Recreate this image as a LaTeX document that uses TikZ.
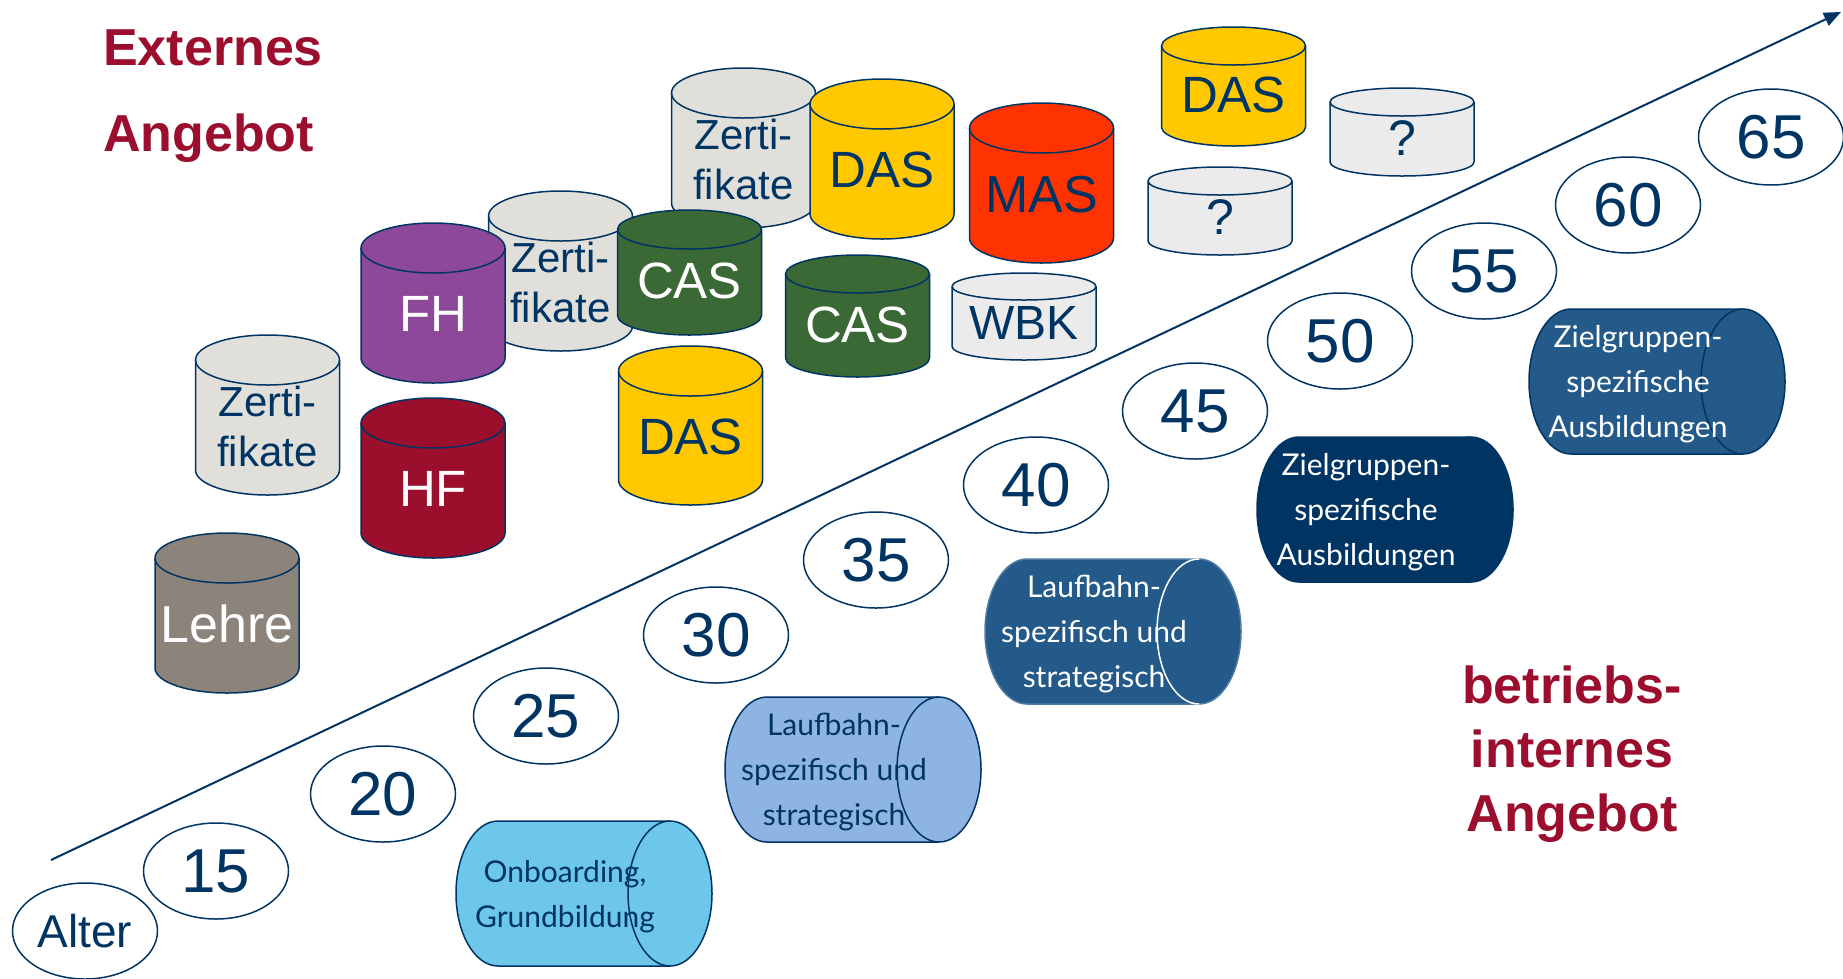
\documentclass[tikz,border=0pt]{standalone}
\usepackage{fontspec}
\setmainfont{Liberation Sans}
\newfontfamily\lblfont{Lato}
\usetikzlibrary{shapes.geometric,arrows.meta}
\definecolor{navy}{HTML}{003462}
\definecolor{titlered}{HTML}{9C0E2D}
\definecolor{zgray}{HTML}{E0DFDA}
\definecolor{qgray}{HTML}{EBEBEB}
\definecolor{dasyellow}{HTML}{FFC800}
\definecolor{casgreen}{HTML}{3B6935}
\definecolor{fhpurple}{HTML}{8E4899}
\definecolor{hfred}{HTML}{9B0E2C}
\definecolor{masred}{HTML}{FF3300}
\definecolor{taupe}{HTML}{8C847B}
\definecolor{onblue}{HTML}{6CC7EB}
\definecolor{lbblue}{HTML}{8DB4E2}
\definecolor{midblue}{HTML}{245A89}
\definecolor{deepnavy}{HTML}{003462}
\tikzset{
  numell/.style={ellipse, draw=navy, fill=white, line width=1.5pt,
    minimum width=145pt, minimum height=96pt, inner sep=0pt, text=navy,
    font=\fontsize{62}{62}\selectfont},
  titletext/.style={text=titlered, font=\fontsize{52}{64}\selectfont\bfseries, inner sep=0pt},
  cyllabel/.style={align=center, inner sep=0pt},
  hlabel/.style={align=center, inner sep=0pt, font=\lblfont\fontsize{30}{45}\selectfont},
}
% vertical cylinder: name, cx, top, height, fill, text colour, font size, text, ry
\newcommand\vcyl[9]{%
  \filldraw[fill=#5, draw=navy, line width=1.5pt]
    (#2-72,-#3-#9) -- (#2-72,-#3-#4+#9)
    arc[start angle=180, end angle=360, x radius=72, y radius=#9]
    -- (#2+72,-#3-#9)
    arc[start angle=0, end angle=180, x radius=72, y radius=#9] -- cycle;
  \draw[navy, line width=1.5pt] (#2-72,-#3-#9)
    arc[start angle=180, end angle=360, x radius=72, y radius=#9];
  \node[cyllabel, text=#6, font=\fontsize{#7}{50}\selectfont] (#1) at (#2,{-#3-0.57*#4}) {#8};
}
% horizontal cylinder: name, left, top, fill, outline, inner arc, text colour, text
\newcommand\hcyl[8]{%
  \filldraw[fill=#4, draw=#5, line width=1.5pt]
    (#2+42,-#3) -- (#2+214,-#3)
    arc[start angle=90, end angle=-90, x radius=42, y radius=72.5]
    -- (#2+42,-#3-145)
    arc[start angle=270, end angle=90, x radius=42, y radius=72.5] -- cycle;
  \draw[#6, line width=1.5pt] (#2+214,-#3)
    arc[start angle=90, end angle=270, x radius=42, y radius=72.5];
  \node[hlabel, text=#7] (#1) at ({#2+109},{-#3-75.5}) {#8};
}
\begin{document}
\begin{tikzpicture}[x=1pt,y=1pt]
\useasboundingbox (0,0) rectangle (1843,-978);

% titles
\node[titletext, align=left, anchor=west] (extern) at (103,-96.5) {Externes\\[22pt]Angebot};
\node[titletext, align=center] (intern) at (1572,-754) {betriebs-\\internes\\Angebot};

% axis
\coordinate (axisStart) at (51,-860);
\coordinate (axisEnd) at (1841,-12);
\draw[navy, line width=2pt, -{Triangle[length=17pt,width=14pt]}] (axisStart) -- (axisEnd);

% vertical cylinders (back to front)
\vcyl{dasR}{1233.5}{27}{119}{dasyellow}{navy}{51}{DAS}{19}
\vcyl{zertT}{743.5}{68}{160}{zgray}{navy}{42}{Zerti-\\fikate}{25}
\vcyl{dasT}{882}{79}{160}{dasyellow}{navy}{51}{DAS}{25}
\vcyl{qR}{1402}{88}{88}{qgray}{navy}{50}{?}{14}
\vcyl{mas}{1041.5}{103}{160}{masred}{navy}{52}{MAS}{25}
\vcyl{qL}{1220}{167}{88}{qgray}{navy}{50}{?}{14}
\vcyl{zertM}{560.5}{191}{160}{zgray}{navy}{42}{Zerti-\\fikate}{25}
\vcyl{casL}{689.5}{210}{125}{casgreen}{white}{51}{CAS}{19.5}
\vcyl{fh}{433}{223}{160}{fhpurple}{white}{51}{FH}{25}
\vcyl{casM}{857.5}{255}{122}{casgreen}{white}{51}{CAS}{19}
\vcyl{wbk}{1024}{273}{87}{qgray}{navy}{48}{WBK}{13.5}
\vcyl{zertL}{267.5}{335}{160}{zgray}{navy}{42}{Zerti-\\fikate}{25}
\vcyl{dasL}{690.5}{346}{159}{dasyellow}{navy}{51}{DAS}{25}
\vcyl{hf}{433}{398}{160}{hfred}{white}{51}{HF}{25}
\vcyl{lehre}{227}{533}{160}{taupe}{white}{52}{Lehre}{25}

% horizontal cylinders
\hcyl{onb}{456}{821}{onblue}{navy}{navy}{navy}{Onboarding,\\Grundbildung}
\hcyl{lbL}{725}{697}{lbblue}{navy}{navy}{navy}{Laufbahn-\\spezifisch und\\strategisch}
\hcyl{lbD}{985}{559}{midblue}{midblue!80!white}{white}{white}{Laufbahn-\\spezifisch und\\strategisch}
\hcyl{zgN}{1257}{437}{deepnavy}{deepnavy}{deepnavy}{white}{Zielgruppen-\\spezifische\\Ausbildungen}
\hcyl{zgR}{1529}{309}{midblue}{navy}{navy}{white}{Zielgruppen-\\spezifische\\Ausbildungen}

% age ellipses
\node[numell, font=\fontsize{46}{46}\selectfont] (alter) at (85,-931) {Alter};
\node[numell] (a15) at (216,-871) {15};
\node[numell] (a20) at (383,-794) {20};
\node[numell] (a25) at (546,-716) {25};
\node[numell] (a30) at (716,-635) {30};
\node[numell] (a35) at (876,-560) {35};
\node[numell] (a40) at (1036,-485) {40};
\node[numell] (a45) at (1195,-411) {45};
\node[numell] (a50) at (1340,-341) {50};
\node[numell] (a55) at (1484,-271) {55};
\node[numell] (a60) at (1628,-205) {60};
\node[numell] (a65) at (1771,-137) {65};
\end{tikzpicture}
\end{document}
